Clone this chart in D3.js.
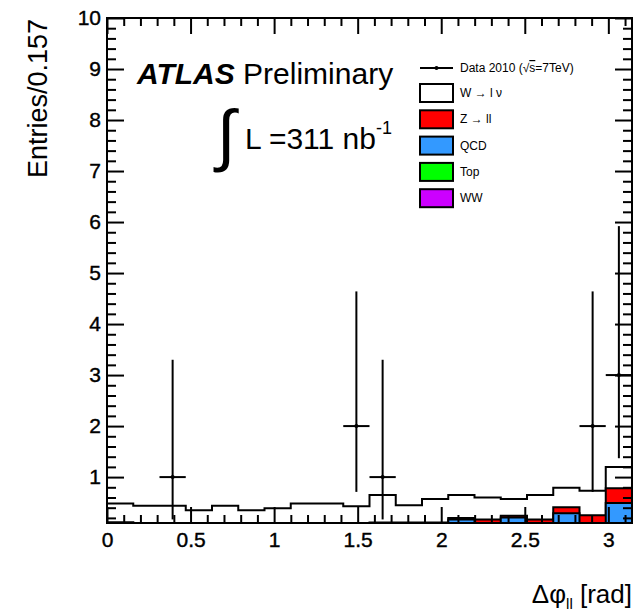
<!DOCTYPE html>
<html lang="en">

<head>
    <meta charset="UTF-8">
    <script src="https://cdnjs.cloudflare.com/ajax/libs/d3/7.9.0/d3.min.js"></script>
    <title>Delta phi ll</title>
    <style>
        body {
            margin: 0;
            background-color: white;
            font-family: "Liberation Sans", Arial, sans-serif;
        }

        svg {
            display: block;
        }

        .tick text {
            font-family: "Liberation Sans", Arial, sans-serif;
        }
    </style>
</head>

<body>
    <div id="content"></div>
    <script>
        const width = 634;
        const height = 611;
        const margin = { top: 18, right: 2, bottom: 88, left: 107 };

        // 20 bins of width pi/20 (0.157) from 0 to pi
        const nBins = 20;
        const binWidth = Math.PI / nBins;

        // stacked MC (bottom -> top: WW, Top, QCD, Z, W)
        const wwValues   = [0, 0, 0, 0, 0, 0, 0, 0, 0, 0, 0, 0, 0, 0.01, 0.01, 0.01, 0.01, 0.01, 0.01, 0.02];
        const topValues  = [0, 0, 0, 0, 0, 0, 0, 0, 0, 0, 0, 0, 0, 0.01, 0.01, 0.01, 0.01, 0.02, 0.02, 0.03];
        const qcdValues  = [0.11, 0, 0, 0, 0, 0, 0, 0, 0, 0, 0, 0, 0, 0.15, 0.03, 0.19, 0.03, 0.26, 0.02, 0.44];
        const zllValues  = [0, 0, 0, 0, 0, 0, 0, 0, 0, 0, 0.11, 0.11, 0.11, 0.03, 0.12, 0.03, 0.12, 0.12, 0.20, 0.29];
        const wlnuValues = [0.37, 0.44, 0.44, 0.35, 0.44, 0.35, 0.39, 0.48, 0.48, 0.43, 0.54, 0.34, 0.46, 0.45, 0.43, 0.33, 0.48, 0.38, 0.48, 0.42];

        // data 2010
        const dataBins    = [2, 9, 10, 18, 19];
        const dataCounts  = [1, 2, 1, 2, 3];
        const dataErrLow  = [0.83, 1.29, 0.83, 1.29, 1.63];
        const dataErrHigh = [2.30, 2.64, 2.30, 2.64, 2.92];

        const xTicks = [0, 0.5, 1, 1.5, 2, 2.5, 3];
        const xMinor = d3.range(1, 32).map(i => i / 10).filter(v => Math.abs(v * 2 - Math.round(v * 2)) > 1e-6);
        const yTicks = [1, 2, 3, 4, 5, 6, 7, 8, 9, 10];
        const yMinor = d3.range(1, 50).map(i => i / 5).filter(v => Math.abs(v - Math.round(v)) > 1e-6);

        const legendItems = [
            { label: "W \u2192 l \u03bd", color: "white" },
            { label: "Z \u2192 ll", color: "#ff0000" },
            { label: "QCD", color: "#3399ff" },
            { label: "Top", color: "#00ff00" },
            { label: "WW", color: "#cc00ff" }
        ];

        const svg = d3.select("#content").append("svg")
            .attr("width", width)
            .attr("height", height);

        const x = d3.scaleLinear()
            .domain([0, Math.PI])
            .range([margin.left, width - margin.right]);

        const y = d3.scaleLinear()
            .domain([0.1, 10])
            .range([height - margin.bottom, margin.top]);

        svg.append("clipPath").attr("id", "frame-clip")
            .append("rect")
            .attr("x", margin.left)
            .attr("y", margin.top)
            .attr("width", width - margin.left - margin.right)
            .attr("height", height - margin.top - margin.bottom);

        // cumulative stacks
        const layers = [
            { values: wwValues, color: "#cc00ff" },
            { values: topValues, color: "#00ff00" },
            { values: qcdValues, color: "#3399ff" },
            { values: zllValues, color: "#ff0000" },
            { values: wlnuValues, color: "white" }
        ];
        let running = d3.range(nBins).map(() => 0);
        layers.forEach(l => {
            running = running.map((v, i) => v + l.values[i]);
            l.cum = running.slice();
        });

        const line = d3.line();
        const stepPoints = cum => {
            const yb = y(0.1) + 2;
            const pts = [[x(0), yb]];
            cum.forEach((v, i) => {
                const yy = y(Math.max(v, 0.08));
                pts.push([x(i * binWidth), yy]);
                pts.push([x((i + 1) * binWidth), yy]);
            });
            pts.push([x(Math.PI), yb]);
            return pts;
        };

        const hist = svg.append("g").attr("clip-path", "url(#frame-clip)");
        layers.slice().reverse().forEach(l => {
            hist.append("path")
                .attr("d", line(stepPoints(l.cum)) + "Z")
                .attr("fill", l.color)
                .attr("stroke", "black")
                .attr("stroke-width", 2);
        });

        // data points with poisson error bars
        const dataG = svg.append("g").attr("clip-path", "url(#frame-clip)");
        dataBins.forEach((b, i) => {
            const cx = x((b + 0.5) * binWidth);
            const v = dataCounts[i];
            dataG.append("line")
                .attr("x1", cx).attr("x2", cx)
                .attr("y1", y(v - dataErrLow[i])).attr("y2", y(v + dataErrHigh[i]))
                .attr("stroke", "black").attr("stroke-width", 2);
            dataG.append("line")
                .attr("x1", x(b * binWidth)).attr("x2", x((b + 1) * binWidth))
                .attr("y1", y(v)).attr("y2", y(v))
                .attr("stroke", "black").attr("stroke-width", 2);
            dataG.append("circle")
                .attr("cx", cx).attr("cy", y(v)).attr("r", 2)
                .attr("fill", "black");
        });

        // axes, ticks drawn inward like ROOT
        const styleAxis = g => {
            g.select(".domain").remove();
            g.selectAll(".tick line").attr("stroke", "black").attr("stroke-width", 2);
            g.selectAll(".tick text").attr("fill", "black").attr("font-size", 21)
                .attr("stroke", "black").attr("stroke-width", 0.4);
        };
        const yb = height - margin.bottom;
        const xr = width - margin.right;

        svg.append("g").attr("transform", `translate(0,${yb})`)
            .call(d3.axisBottom(x).tickValues(xTicks).tickSize(-16).tickPadding(9)
                .tickFormat(d3.format("")))
            .call(styleAxis);
        svg.append("g").attr("transform", `translate(0,${yb})`)
            .call(d3.axisBottom(x).tickValues(xMinor).tickSize(-8).tickFormat(""))
            .call(styleAxis);
        svg.append("g").attr("transform", `translate(0,${margin.top})`)
            .call(d3.axisTop(x).tickValues(xTicks).tickSize(-16).tickFormat(""))
            .call(styleAxis);
        svg.append("g").attr("transform", `translate(0,${margin.top})`)
            .call(d3.axisTop(x).tickValues(xMinor).tickSize(-8).tickFormat(""))
            .call(styleAxis);

        svg.append("g").attr("transform", `translate(${margin.left},0)`)
            .call(d3.axisLeft(y).tickValues(yTicks).tickSize(-17).tickPadding(6))
            .call(styleAxis);
        svg.append("g").attr("transform", `translate(${margin.left},0)`)
            .call(d3.axisLeft(y).tickValues(yMinor).tickSize(-9).tickFormat(""))
            .call(styleAxis);
        svg.append("g").attr("transform", `translate(${xr},0)`)
            .call(d3.axisRight(y).tickValues(yTicks).tickSize(-17).tickFormat(""))
            .call(styleAxis);
        svg.append("g").attr("transform", `translate(${xr},0)`)
            .call(d3.axisRight(y).tickValues(yMinor).tickSize(-9).tickFormat(""))
            .call(styleAxis);

        // frame
        svg.append("rect")
            .attr("x", margin.left).attr("y", margin.top)
            .attr("width", xr - margin.left).attr("height", yb - margin.top)
            .attr("fill", "none").attr("stroke", "black").attr("stroke-width", 2);

        // axis titles
        svg.append("text")
            .attr("transform", "translate(47,19) rotate(-90)")
            .attr("text-anchor", "end")
            .attr("font-size", 27)
            .text("Entries/0.157");

        const xt = svg.append("text")
            .attr("x", 632).attr("y", 603)
            .attr("text-anchor", "end")
            .attr("font-size", 26);
        xt.append("tspan").text("\u0394\u03c6");
        xt.append("tspan").attr("font-size", 15).attr("dy", 6).text("ll");
        xt.append("tspan").attr("dy", -6).text(" [rad]");

        // ATLAS label
        const atlas = svg.append("text").attr("x", 137).attr("y", 84).attr("font-size", 30);
        atlas.append("tspan").attr("font-weight", "bold").attr("font-style", "italic").text("ATLAS");
        atlas.append("tspan").text(" Preliminary");

        svg.append("text").attr("x", 217).attr("y", 158).attr("font-size", 68).text("\u222b");
        const lumi = svg.append("text").attr("x", 245).attr("y", 149).attr("font-size", 30);
        lumi.append("tspan").text("L =311 nb");
        lumi.append("tspan").attr("font-size", 18).attr("dy", -15).text("-1");

        // legend
        const lg = svg.append("g");
        lg.append("line").attr("x1", 420).attr("x2", 453).attr("y1", 68).attr("y2", 68)
            .attr("stroke", "black").attr("stroke-width", 2);
        lg.append("circle").attr("cx", 436.5).attr("cy", 68).attr("r", 2).attr("fill", "black");
        const dt = lg.append("text").attr("x", 460).attr("y", 72).attr("font-size", 12);
        dt.append("tspan").text("Data 2010  (\u221a");
        dt.append("tspan").style("text-decoration", "overline").text("s");
        dt.append("tspan").text("=7TeV)");

        legendItems.forEach((d, i) => {
            const cy = 93 + i * 26.3;
            lg.append("rect")
                .attr("x", 420).attr("y", cy - 9).attr("width", 33).attr("height", 18)
                .attr("fill", d.color).attr("stroke", "black").attr("stroke-width", 2);
            lg.append("text")
                .attr("x", 460).attr("y", cy + 4).attr("font-size", 12)
                .text(d.label);
        });
    </script>

</body>

</html>
